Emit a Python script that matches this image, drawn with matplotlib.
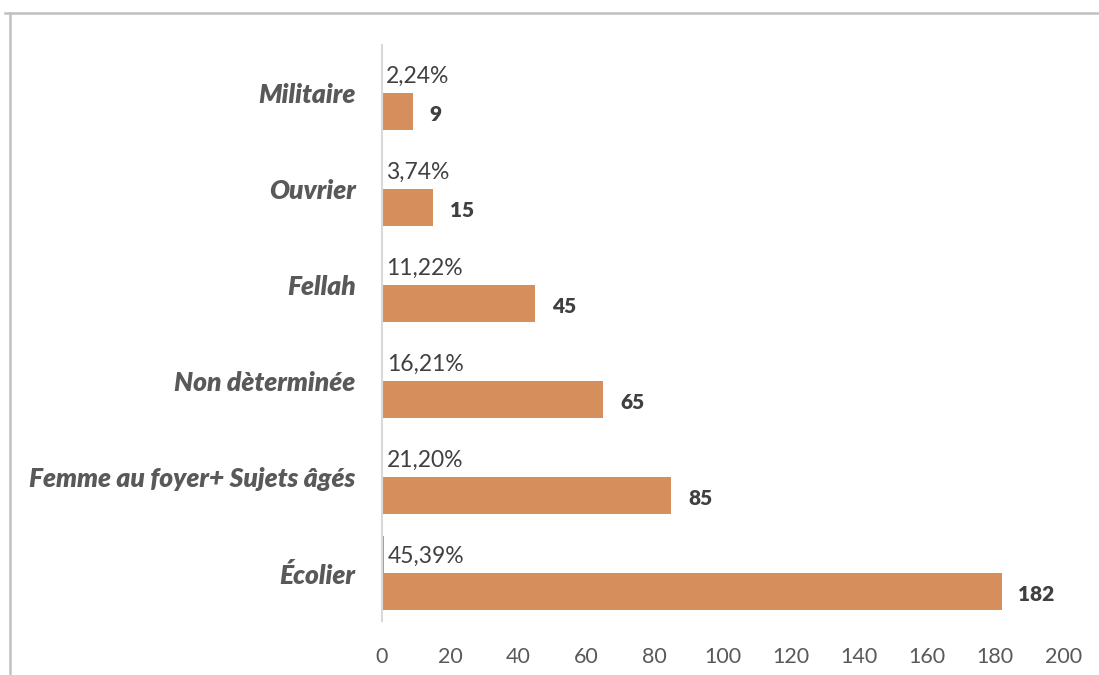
import matplotlib.pyplot as plt
import numpy as np
from matplotlib.lines import Line2D

# occupation categories, bottom to top
categories = ["Écolier", "Femme au foyer+ Sujets âgés", "Non dèterminée",
              "Fellah", "Ouvrier", "Militaire"]
counts = [182, 85, 65, 45, 15, 9]
shares = [0.4539, 0.2120, 0.1621, 0.1122, 0.0374, 0.0224]
share_labels = ["45,39%", "21,20%", "16,21%", "11,22%", "3,74%", "2,24%"]

bar_color = "#D78E5D"
plt.rcParams['font.family'] = ['Lato', 'DejaVu Sans']

fig = plt.figure(figsize=(10.99, 6.75), dpi=100)
ax = fig.add_axes([0.3476, 0.08, 0.6197, 0.8533])

y = np.arange(len(categories))
h = 0.385
ax.barh(y + h / 2, shares, height=h, color=bar_color)
ax.barh(y - h / 2, counts, height=h, color=bar_color)

for yi, s, txt in zip(y, shares, share_labels):
    ax.annotate(txt, (s, yi + h / 2), xytext=(3, -1), textcoords="offset points",
                va="center", ha="left", fontsize=16.5, color="#404040")
for yi, c in zip(y, counts):
    ax.annotate(str(c), (c, yi - h / 2), xytext=(12, -2), textcoords="offset points",
                va="center", ha="left", fontsize=15, fontweight="heavy", color="#404040")

ax.set_xlim(0, 200)
ax.set_xticks(np.arange(0, 201, 20))
ax.set_ylim(-0.5, len(categories) - 0.5)
ax.set_yticks(y)
ax.set_yticklabels(categories, fontsize=19, fontweight="heavy", style="italic",
                   color="#595959")
ax.tick_params(axis="x", length=0, labelsize=15.5, labelcolor="#595959", pad=19)
ax.tick_params(axis="y", length=0, pad=19)
for side in ["top", "right", "bottom"]:
    ax.spines[side].set_visible(False)
ax.spines["left"].set_color("#d9d9d9")
ax.spines["left"].set_linewidth(1.5)

# outer frame: top and left edges only
fig.add_artist(Line2D([5 / 1099, 1], [1 - 13 / 675] * 2, color="#c0c0c0", lw=1.8,
                      transform=fig.transFigure))
fig.add_artist(Line2D([10 / 1099] * 2, [0, 1 - 13 / 675], color="#c0c0c0", lw=1.8,
                      transform=fig.transFigure))

fig.savefig("out.png", dpi=100, facecolor="white")
